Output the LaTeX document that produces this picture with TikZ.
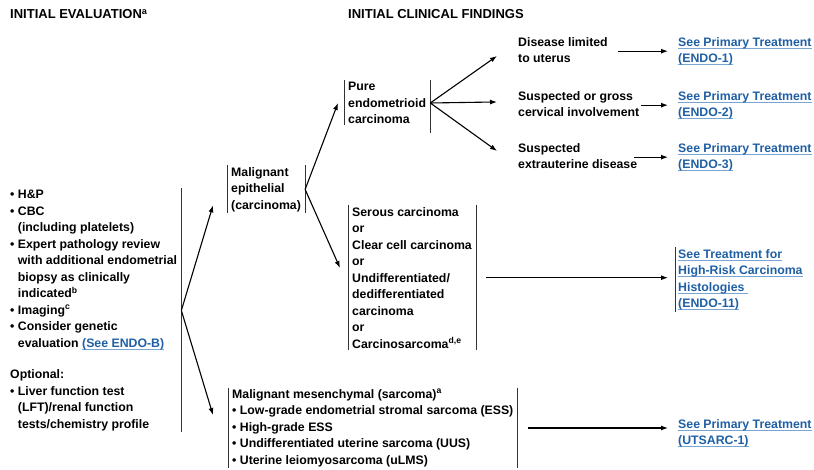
\documentclass[tikz,border=0pt]{standalone}
\usepackage{fontspec}
\setmainfont{Liberation Sans}
\usetikzlibrary{arrows.meta}

\definecolor{lnkblue}{RGB}{31,95,165}
\definecolor{ulcol}{RGB}{120,165,210}
\newsavebox\lnkbox
\newcommand\lnk[1]{\sbox\lnkbox{\textcolor{lnkblue}{#1}}\rlap{\textcolor{ulcol}{\rule[-2.4pt]{\wd\lnkbox}{1pt}}}\usebox\lnkbox}
\newcommand\ind{\hphantom{•\ }}

\tikzset{
	every node/.style={font=\fontsize{12.3}{16.5}\selectfont\bfseries, inner sep=0pt, anchor=north west, align=left},
	hdr/.style={font=\fontsize{13}{16.5}\selectfont\bfseries},
	brk/.style={inner xsep=4pt, inner ysep=1.5pt},
	bar/.style={line width=0.9pt, black!80},
	arr/.style={-{Latex[length=7pt,width=5pt]}, line width=1.1pt}
}

\begin{document}
\begin{tikzpicture}[x=1pt,y=-1pt]
	\useasboundingbox (0,0) rectangle (814,470);

	\node[hdr] (evalhd) at (10,9.5) {INITIAL EVALUATION\textsuperscript{a}};
	\node[hdr] (findhd) at (348,9.5) {INITIAL CLINICAL FINDINGS};

	\node[brk] (evaln) at (6,188.5) {• H\&P\\
		• CBC\\
		\ind(including platelets)\\
		• Expert pathology review\\
		\ind with additional endometrial\\
		\ind biopsy as clinically\\
		\ind indicated\textsuperscript{b}\\
		• Imaging\textsuperscript{c}\\
		• Consider genetic\\
		\ind evaluation \lnk{(See ENDO-B)}\\[15pt]
		Optional:\\
		• Liver function test\\
		\ind(LFT)/renal function\\
		\ind tests/chemistry profile};

	\node[brk] (epith) at (227,165.5) {Malignant\\epithelial\\(carcinoma)};
	\node[brk] (pure) at (344,80.5) {Pure\\endometrioid\\carcinoma};
	\node[brk] (serous) at (348,205.5) {Serous carcinoma\\or\\Clear cell carcinoma\\or\\Undifferentiated/\\dedifferentiated\\carcinoma\\or\\Carcinosarcoma\textsuperscript{d,e}};
	\node[brk] (mesen) at (228,387.5) {Malignant mesenchymal (sarcoma)\textsuperscript{a}\\
		• Low-grade endometrial stromal sarcoma (ESS)\\
		• High-grade ESS\\
		• Undifferentiated uterine sarcoma (UUS)\\
		• Uterine leiomyosarcoma (uLMS)};

	\node (dis) at (518,37) {Disease limited\\to uterus};
	\node (cerv) at (518,91) {Suspected or gross\\cervical involvement};
	\node (extra) at (518,143) {Suspected\\extrauterine disease};

	\node (lnk1) at (678,37) {\lnk{See Primary Treatment}\\\lnk{(ENDO-1)}};
	\node (lnk2) at (678,91) {\lnk{See Primary Treatment}\\\lnk{(ENDO-2)}};
	\node (lnk3) at (678,143) {\lnk{See Primary Treatment}\\\lnk{(ENDO-3)}};
	\node[brk, inner xsep=3pt] (hrisk) at (675,247.5) {\lnk{See Treatment for}\\\lnk{High-Risk Carcinoma}\\\lnk{Histologies\ }\\\lnk{(ENDO-11)}};
	\node (lnk4) at (678,419) {\lnk{See Primary Treatment}\\\lnk{(UTSARC-1)}};

	% brackets
	\foreach \n in {epith,pure,serous,mesen,hrisk}
		\draw[bar] (\n.north west) -- (\n.south west);
	\foreach \n in {evaln,epith,serous,mesen}
		\draw[bar] (\n.north east) -- (\n.south east);
	\draw[bar] (pure.north east) -- ([yshift=-8pt]pure.south east);

	% arrows
	\draw[arr] (evaln.east) -- ([xshift=-14pt,yshift=8pt]epith.south west);
	\draw[arr] (evaln.east) -- ([xshift=-15pt,yshift=-27.5pt]mesen.north west);
	\draw[arr] (epith.east) -- ([xshift=-6pt]pure.west);
	\draw[arr] (epith.east) -- ([xshift=-8pt,yshift=-62.5pt]serous.north west);
	\draw[arr] (pure.east) -- ([xshift=-21pt,yshift=-6pt]dis.west);
	\draw[arr] (pure.east) -- ([xshift=-21pt,yshift=2pt]cerv.west);
	\draw[arr] (pure.east) -- ([xshift=-21pt,yshift=5pt]extra.west);

	\draw[arr, shorten <=10pt, shorten >=10pt] (dis.east |- lnk1.west) -- (lnk1.west);
	\draw[arr, shorten <=2pt, shorten >=10pt] (cerv.east |- lnk2.west) -- (lnk2.west);
	\draw[arr, shorten <=-3pt, shorten >=10pt] (extra.east |- lnk3.west) -- (lnk3.west);
	\draw[arr, shorten <=10pt, shorten >=7pt] (serous.east) -- (serous.east -| hrisk.west);
	\draw[arr, shorten <=10pt, shorten >=10pt] (mesen.east) -- (mesen.east -| lnk4.west);
\end{tikzpicture}
\end{document}
